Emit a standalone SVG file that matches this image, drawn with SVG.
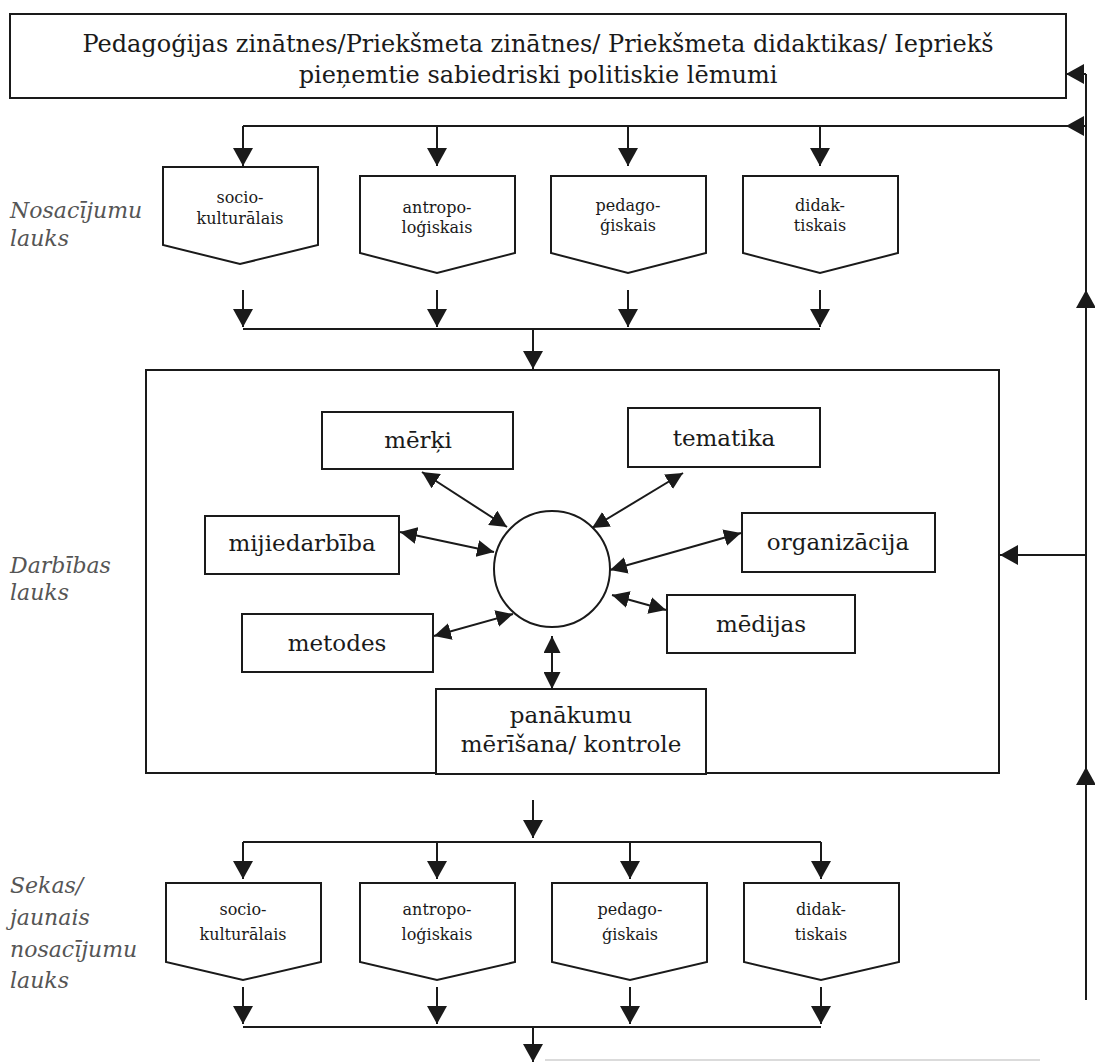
<svg xmlns="http://www.w3.org/2000/svg" width="1095" height="1062" viewBox="0 0 1095 1062">
<style>
.bx{fill:#fff;stroke:#1a1a1a;stroke-width:2}
.ln{fill:none;stroke:#1a1a1a;stroke-width:2}
.a{marker-end:url(#ah)}
.d{marker-start:url(#ah2);marker-end:url(#ah2)}
.t{font-family:"DejaVu Serif","Liberation Serif",serif;fill:#1a1a1a;text-anchor:middle}
.tb{font-size:24px}
.ti{font-size:23px}
.tp{font-size:16px}
.lb{font-family:"DejaVu Serif","Liberation Serif",serif;font-style:italic;font-size:22px;fill:#555}
</style>
<defs>
<marker id="ah" viewBox="0 0 18 20" refX="18" refY="10" markerWidth="18" markerHeight="20" orient="auto" markerUnits="userSpaceOnUse"><path d="M0,0 L18,10 L0,20 z" fill="#1a1a1a"/></marker>
<marker id="ah2" viewBox="0 0 18 18" refX="18" refY="9" markerWidth="17" markerHeight="17" orient="auto-start-reverse" markerUnits="userSpaceOnUse"><path d="M0,0 L18,9 L0,18 z" fill="#1a1a1a"/></marker>
</defs>

<g id="top">
<rect class="bx" x="10" y="14" width="1056" height="84"/>
<text class="t tb" x="538" y="52">Pedagoģijas zinātnes/Priekšmeta zinātnes/ Priekšmeta didaktikas/ Iepriekš</text>
<text class="t tb" x="538" y="83">pieņemtie sabiedriski politiskie lēmumi</text>
</g>

<g id="labels">
<text class="lb" x="10" y="218">Nosacījumu</text>
<text class="lb" x="10" y="246">lauks</text>
<text class="lb" x="10" y="573">Darbības</text>
<text class="lb" x="10" y="600">lauks</text>
<text class="lb" x="10" y="893">Sekas/</text>
<text class="lb" x="10" y="925">jaunais</text>
<text class="lb" x="10" y="957">nosacījumu</text>
<text class="lb" x="10" y="988">lauks</text>
</g>

<g id="row1">
<g id="p1-socio"><path class="bx" d="M163,167 H318 V245 L240,264 L163,245 Z"/><text class="t tp" x="240" y="203">socio-</text><text class="t tp" x="240" y="224">kulturālais</text></g>
<g id="p1-antropo"><path class="bx" d="M360,176 H515 V253 L437,273 L360,253 Z"/><text class="t tp" x="437" y="213">antropo-</text><text class="t tp" x="437" y="233">loģiskais</text></g>
<g id="p1-pedago"><path class="bx" d="M551,176 H706 V253 L628,273 L551,253 Z"/><text class="t tp" x="628" y="211">pedago-</text><text class="t tp" x="628" y="231">ģiskais</text></g>
<g id="p1-didak"><path class="bx" d="M743,176 H898 V253 L820,273 L743,253 Z"/><text class="t tp" x="820" y="211">didak-</text><text class="t tp" x="820" y="231">tiskais</text></g>
</g>

<g id="main">
<rect class="bx" x="146" y="370" width="853" height="403"/>
<circle class="bx" cx="552" cy="569" r="58"/>
</g>
<g id="merki"><rect class="bx" x="322" y="412" width="191" height="57"/><text class="t ti" x="418" y="448">mērķi</text></g>
<g id="tematika"><rect class="bx" x="628" y="408" width="192" height="59"/><text class="t ti" x="724" y="446">tematika</text></g>
<g id="mijiedarbiba"><rect class="bx" x="205" y="516" width="194" height="58"/><text class="t ti" x="302" y="551">mijiedarbība</text></g>
<g id="organizacija"><rect class="bx" x="742" y="513" width="193" height="59"/><text class="t ti" x="838" y="550">organizācija</text></g>
<g id="metodes"><rect class="bx" x="242" y="614" width="191" height="58"/><text class="t ti" x="337" y="651">metodes</text></g>
<g id="medijas"><rect class="bx" x="667" y="595" width="188" height="58"/><text class="t ti" x="761" y="632">mēdijas</text></g>
<g id="panakumu"><rect class="bx" x="436" y="689" width="270" height="85"/><text class="t ti" x="571" y="723">panākumu</text><text class="t ti" x="571" y="752">mērīšana/ kontrole</text></g>

<g id="row2">
<g id="p2-socio"><path class="bx" d="M166,883 H321 V962 L243,980 L166,962 Z"/><text class="t tp" x="243" y="915">socio-</text><text class="t tp" x="243" y="940">kulturālais</text></g>
<g id="p2-antropo"><path class="bx" d="M360,883 H515 V962 L437,980 L360,962 Z"/><text class="t tp" x="437" y="915">antropo-</text><text class="t tp" x="437" y="940">loģiskais</text></g>
<g id="p2-pedago"><path class="bx" d="M552,883 H707 V962 L630,980 L552,962 Z"/><text class="t tp" x="630" y="915">pedago-</text><text class="t tp" x="630" y="940">ģiskais</text></g>
<g id="p2-didak"><path class="bx" d="M744,883 H899 V962 L821,980 L744,962 Z"/><text class="t tp" x="821" y="915">didak-</text><text class="t tp" x="821" y="940">tiskais</text></g>
</g>

<g id="connectors">
<path class="ln" d="M1066,126 H243"/>
<path class="ln a" d="M1086,126 H1066"/>
<path class="ln a" d="M1086,74 H1066"/>
<path class="ln a" d="M243,126 V166"/>
<path class="ln a" d="M437,126 V166"/>
<path class="ln a" d="M628,126 V166"/>
<path class="ln a" d="M820,126 V166"/>
<path class="ln a" d="M243,290 V327"/>
<path class="ln a" d="M437,290 V327"/>
<path class="ln a" d="M628,290 V327"/>
<path class="ln a" d="M820,290 V327"/>
<path class="ln" d="M243,329 H820"/>
<path class="ln a" d="M533,329 V369"/>
<path class="ln a" d="M1086,1000 V767"/>
<path class="ln a" d="M1086,767 V290"/>
<path class="ln" d="M1086,290 V74"/>
<path class="ln a" d="M1086,555 H1000"/>
<path class="ln d" d="M422,472 L507,527"/>
<path class="ln d" d="M683,473 L592,528"/>
<path class="ln d" d="M400,532 L494,552"/>
<path class="ln d" d="M741,533 L610,570"/>
<path class="ln d" d="M434,636 L513,614"/>
<path class="ln d" d="M666,610 L612,595"/>
<path class="ln d" d="M552,636 V689"/>
<path class="ln a" d="M533,800 V838"/>
<path class="ln" d="M243,842 H821"/>
<path class="ln a" d="M243,842 V879"/>
<path class="ln a" d="M437,842 V879"/>
<path class="ln a" d="M630,842 V879"/>
<path class="ln a" d="M821,842 V879"/>
<path class="ln a" d="M243,987 V1024"/>
<path class="ln a" d="M437,987 V1024"/>
<path class="ln a" d="M630,987 V1024"/>
<path class="ln a" d="M821,987 V1024"/>
<path class="ln" d="M243,1027 H821"/>
<path class="ln a" d="M533,1027 V1062"/>
<path d="M545,1060 H1040" fill="none" stroke="#cfcfcf" stroke-width="1.5"/>
</g>
</svg>
